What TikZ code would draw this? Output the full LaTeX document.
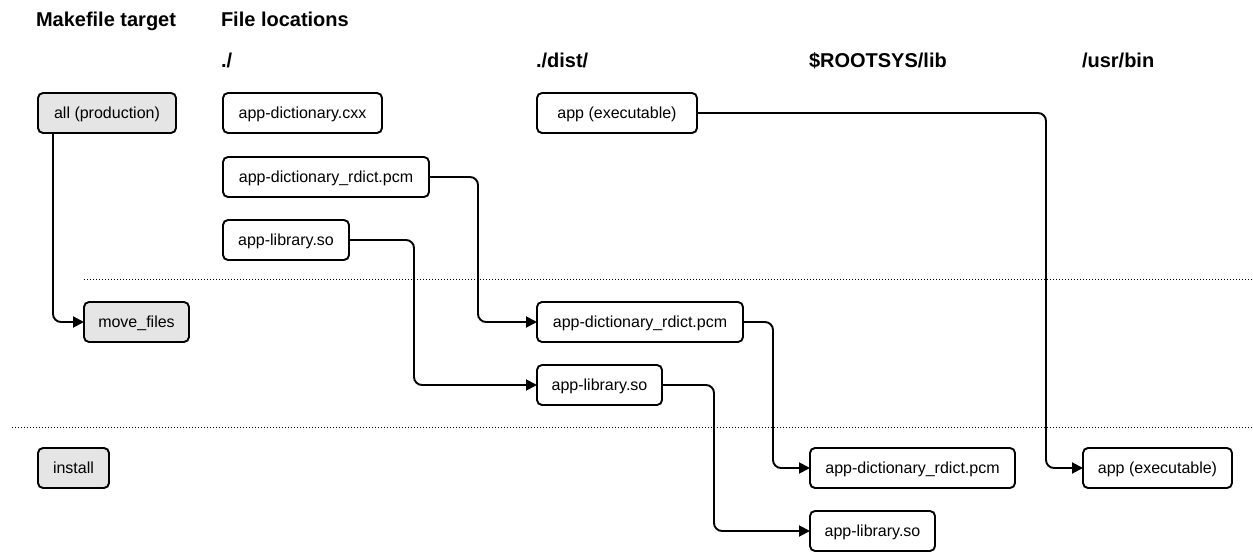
\documentclass[tikz,border=0pt]{standalone}
\usepackage{fontspec}
\setmainfont{Liberation Sans}
\usetikzlibrary{arrows.meta}
\begin{document}
\begin{tikzpicture}[x=1pt,y=-1pt,
  every node/.style={inner sep=0pt, outer sep=0pt},
  filebox/.style={draw=black, line width=1.9pt, rounded corners=5pt, fill=white,
    anchor=west, minimum height=40pt, text height=11.5pt, text depth=0.5pt,
    font=\fontsize{16}{19}\selectfont},
  targetbox/.style={filebox, fill=black!10},
  heading/.style={anchor=west, text height=14.5pt, text depth=4pt,
    font=\fontsize{20}{24}\selectfont\bfseries},
  flow/.style={line width=1.9pt, rounded corners=8pt,
    -{Triangle[length=11pt,width=11pt]}},
  separator/.style={line width=1pt, dotted}
]
\useasboundingbox (0,0) rectangle (1253,553);

% column and row headings
\node[heading] (hmake) at (36,21) {Makefile target};
\node[heading] (hfiles) at (221,21) {File locations};
\node[heading] (hcur) at (221,62.5) {./};
\node[heading] (hdist) at (536,62.5) {./dist/};
\node[heading] (hroot) at (809,62.5) {\$ROOTSYS/lib};
\node[heading] (hbin) at (1082,62.5) {/usr/bin};

% stage separators
\coordinate (s1a) at (84,280);
\coordinate (s1b) at (1253,280);
\coordinate (s2a) at (12,427);
\coordinate (s2b) at (1253,427);
\draw[separator] (s1a) -- (s1b);
\draw[separator] (s2a) -- (s2b);

% makefile targets
\node[targetbox, minimum width=138pt] (all) at (38,113) {all (production)};
\node[targetbox, minimum width=105pt] (move) at (84,322) {move\_files};
\node[targetbox, minimum width=71pt] (install) at (38,468) {install};

% files in ./
\node[filebox, minimum width=159pt] (cxx) at (223,113) {app-dictionary.cxx};
\node[filebox, minimum width=206pt] (pcm0) at (223,177) {app-dictionary\_rdict.pcm};
\node[filebox, minimum width=126pt] (so0) at (223,240) {app-library.so};

% files in ./dist/
\node[filebox, minimum width=160pt] (exe1) at (537,113) {app (executable)};
\node[filebox, minimum width=206pt] (pcm1) at (537,322) {app-dictionary\_rdict.pcm};
\node[filebox, minimum width=125pt] (so1) at (537,385) {app-library.so};

% files in $ROOTSYS/lib and /usr/bin
\node[filebox, minimum width=205pt] (pcm2) at (810,468) {app-dictionary\_rdict.pcm};
\node[filebox, minimum width=125pt] (so2) at (810,531) {app-library.so};
\node[filebox, minimum width=149pt] (exe2) at (1083,468) {app (executable)};

% flows
\draw[flow] (all.south -| 53,0) |- (move.west);
\draw[flow] (pcm0.east) -| (478,250) |- (pcm1.west);
\draw[flow] (so0.east) -| (414,300) |- (so1.west);
\draw[flow] (pcm1.east) -| (773,400) |- (pcm2.west);
\draw[flow] (so1.east) -| (714,450) |- (so2.west);
\draw[flow] (exe1.east) -| (1046,300) |- (exe2.west);
\end{tikzpicture}
\end{document}
